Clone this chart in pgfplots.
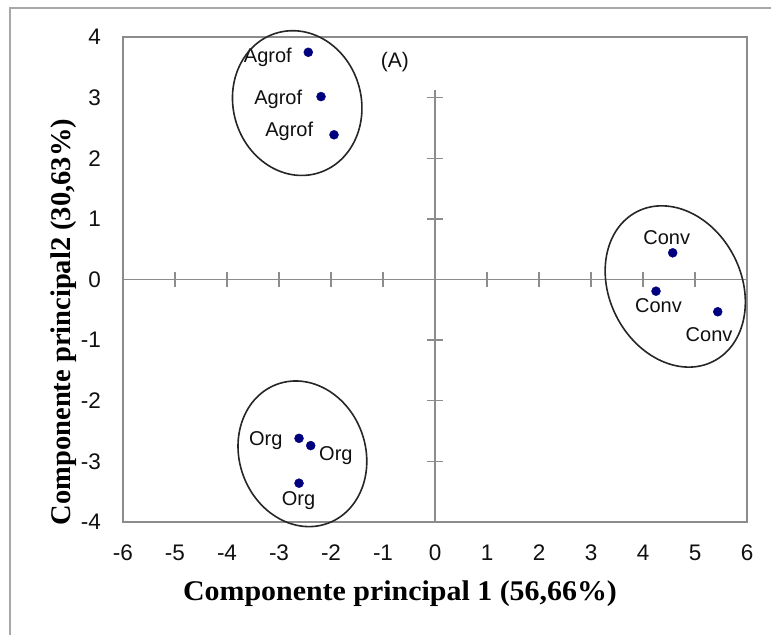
\documentclass[border=0pt]{standalone}
\usepackage{fontspec}
\setmainfont{Liberation Sans}
\newfontfamily\titlefont{Liberation Serif}
\usepackage{pgfplots}
\pgfplotsset{compat=1.18}
\definecolor{axgray}{HTML}{8C8C8C}
\definecolor{framegray}{HTML}{A8A8A8}
\definecolor{dotblue}{HTML}{00007F}
\definecolor{txt}{HTML}{101010}
\tikzset{lab/.style={font=\fontsize{20bp}{24bp}\selectfont, inner sep=0pt, text=txt}}
\begin{document}
\begin{tikzpicture}
\useasboundingbox (0,0) rectangle (771bp,635bp);
\fill[white] (0,0) rectangle (771bp,635bp);
\draw[framegray, line width=2bp] (10bp,0) -- (10bp,627bp) -- (771bp,627bp);
\begin{axis}[
  at={(123bp,113bp)}, anchor=south west,
  scale only axis, width=624bp, height=485bp,
  xmin=-6, xmax=6, ymin=-4, ymax=4,
  clip=false,
  axis line style={axgray, line width=1.4bp},
  xtick={-6,-5,-4,-3,-2,-1,0,1,2,3,4,5,6},
  ytick={-4,-3,-2,-1,0,1,2,3,4},
  xticklabels={-6,-5,-4,-3,-2,-1,0,1,2,3,4,5,6},
  yticklabels={-4,-3,-2,-1,0,1,2,3,4},
  major tick length=0pt, tick style={draw=none},
  ticklabel style={font=\fontsize{22.5bp}{26bp}\selectfont, text=txt, inner sep=0pt},
  xticklabel style={anchor=center, yshift=-31bp},
  yticklabel style={anchor=east, xshift=-22bp},
]
% inner axes through the origin
\draw[axgray, line width=1.4bp] (axis cs:-6,0) -- (axis cs:6,0);
\draw[axgray, line width=1.4bp] (axis cs:0,3.13) -- (axis cs:0,-4);
\pgfplotsinvokeforeach{-5,-4,-3,-2,-1,1,2,3,4,5}{
  \draw[axgray, line width=1.4bp] ([yshift=-7.5bp]axis cs:#1,0) -- ([yshift=7.5bp]axis cs:#1,0);
}
\pgfplotsinvokeforeach{-3,-2,-1,1,2,3}{
  \draw[axgray, line width=1.4bp] ([xshift=-8bp]axis cs:0,#1) -- ([xshift=8bp]axis cs:0,#1);
}

% groups
\addplot[only marks, mark=*, mark size=4.5bp, color=dotblue] coordinates {
  (-2.437,3.748) (-2.192,3.017) (-1.942,2.387)
};
\addplot[only marks, mark=*, mark size=4.5bp, color=dotblue] coordinates {
  (4.571,0.440) (4.250,-0.193) (5.437,-0.532)
};
\addplot[only marks, mark=*, mark size=4.5bp, color=dotblue] coordinates {
  (-2.615,-2.620) (-2.390,-2.740) (-2.615,-3.360)
};

% point labels
\node[lab, anchor=base east, xshift=-16.3bp, yshift=-10.4bp] at (axis cs:-2.437,3.748) {Agrof};
\node[lab, anchor=base east, xshift=-18.7bp, yshift=-8.3bp] at (axis cs:-2.192,3.017) {Agrof};
\node[lab, anchor=base east, xshift=-20.7bp, yshift=-1.7bp] at (axis cs:-1.942,2.387) {Agrof};
\node[lab, anchor=base, xshift=-6bp, yshift=8.3bp] at (axis cs:4.571,0.440) {Conv};
\node[lab, anchor=base, xshift=2.5bp, yshift=-21.3bp] at (axis cs:4.250,-0.193) {Conv};
\node[lab, anchor=base, xshift=-8.7bp, yshift=-29.4bp] at (axis cs:5.437,-0.532) {Conv};
\node[lab, anchor=base east, xshift=-16.3bp, yshift=-6.7bp] at (axis cs:-2.615,-2.620) {Org};
\node[lab, anchor=base west, xshift=8.3bp, yshift=-15bp] at (axis cs:-2.390,-2.740) {Org};
\node[lab, anchor=base, xshift=-0.5bp, yshift=-22.7bp] at (axis cs:-2.615,-3.360) {Org};

% group ellipses
\draw[black!85, line width=1.6bp, rotate around={16:(axis cs:-2.65,2.91)}] (axis cs:-2.65,2.91) ellipse [x radius=64bp, y radius=73bp];
\draw[black!85, line width=1.6bp, rotate around={27:(axis cs:4.62,-0.115)}] (axis cs:4.62,-0.115) ellipse [x radius=66bp, y radius=84bp];
\draw[black!85, line width=1.6bp, rotate around={20:(axis cs:-2.55,-2.875)}] (axis cs:-2.55,-2.875) ellipse [x radius=63bp, y radius=74bp];

\node[font=\fontsize{21bp}{25bp}\selectfont, text=txt, inner sep=0pt] at (axis cs:-0.77,3.593) {(A)};
\end{axis}
\node[font=\titlefont\bfseries\fontsize{28.5bp}{32bp}\selectfont, anchor=base, inner sep=0pt] at (400bp,35bp) {\scalebox{1.05}[1]{Componente principal 1 (56,66\%)}};
\node[font=\titlefont\bfseries\fontsize{28.5bp}{32bp}\selectfont, anchor=base, inner sep=0pt, rotate=90] at (70bp,313bp) {Componente principal2 (30,63\%)};
\end{tikzpicture}
\end{document}
